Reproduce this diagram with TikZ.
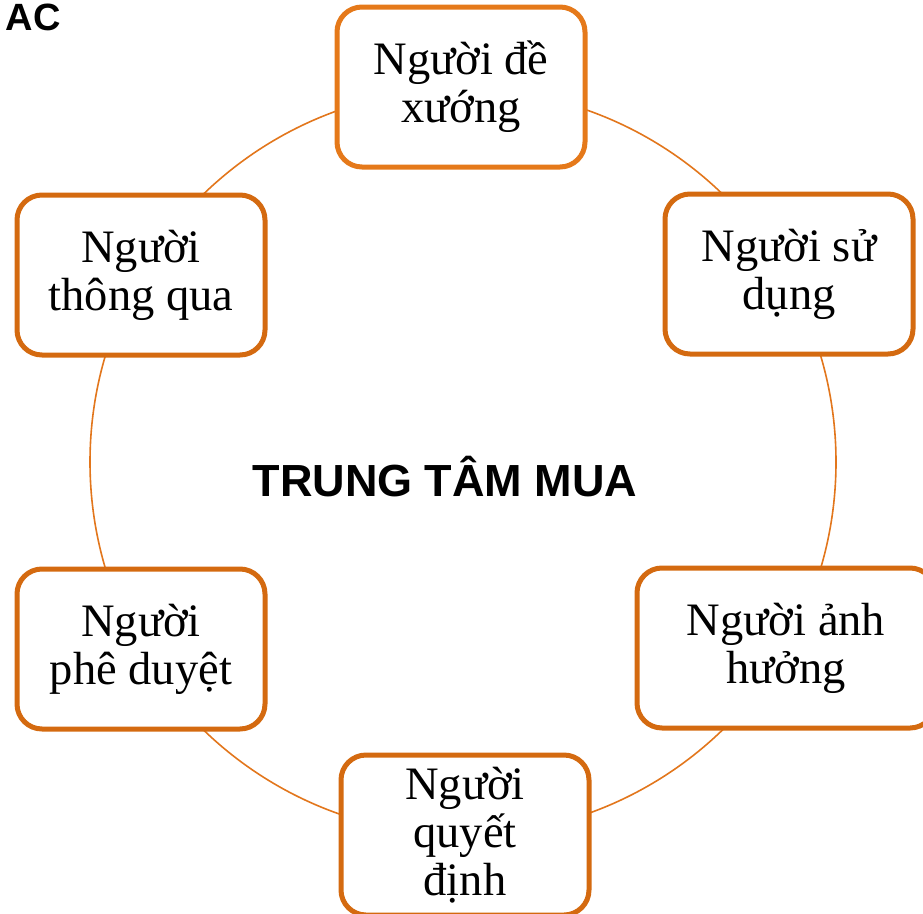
\documentclass[tikz,border=0pt]{standalone}
\usepackage{fontspec}
\setmainfont{Liberation Serif}
\newfontfamily\headfont{Liberation Sans}
\definecolor{ringorange}{RGB}{226,118,28}
\definecolor{boxorange}{RGB}{212,106,16}
\definecolor{topboxorange}{RGB}{229,121,26}
\tikzset{
  rolebox/.style={draw=boxorange, line width=5pt, rounded corners=25pt, fill=white,
    minimum width=248pt, minimum height=160pt, inner sep=0pt, align=center,
    font=\fontsize{46.5}{48}\selectfont},
  ring/.style={draw=ringorange, line width=1.6pt},
  centertitle/.style={font=\headfont\bfseries\fontsize{45}{50}\selectfont},
}
\begin{document}
\begin{tikzpicture}[x=1pt,y=-1pt]
\useasboundingbox (0,0) rectangle (923,913);
% the ring linking the six roles
\coordinate (hub) at (463,462);
\draw[ring] (hub) circle[radius=373pt];
% corner heading
\node[font=\headfont\bfseries\fontsize{38}{42}\selectfont, anchor=base east, inner sep=0pt] (corner) at (61,30) {AC};
% centre title
\node[centertitle, anchor=base, inner sep=0pt] (title) at (445,496) {TRUNG TÂM MUA};
% the six roles around the ring
\node[rolebox, draw=topboxorange] (initiator) at (461,87) {Người đề\\xướng};
\node[rolebox] (user) at (789,274) {Người sử\\dụng};
\node[rolebox, minimum width=298pt] (influencer) at (786,648) {Người ảnh\\hưởng};
\node[rolebox] (decider) at (465,835) {Người\\quyết\\định};
\node[rolebox] (approver) at (141,649) {Người\\phê duyệt};
\node[rolebox] (gatekeeper) at (141,275) {Người\\thông qua};
\end{tikzpicture}
\end{document}
